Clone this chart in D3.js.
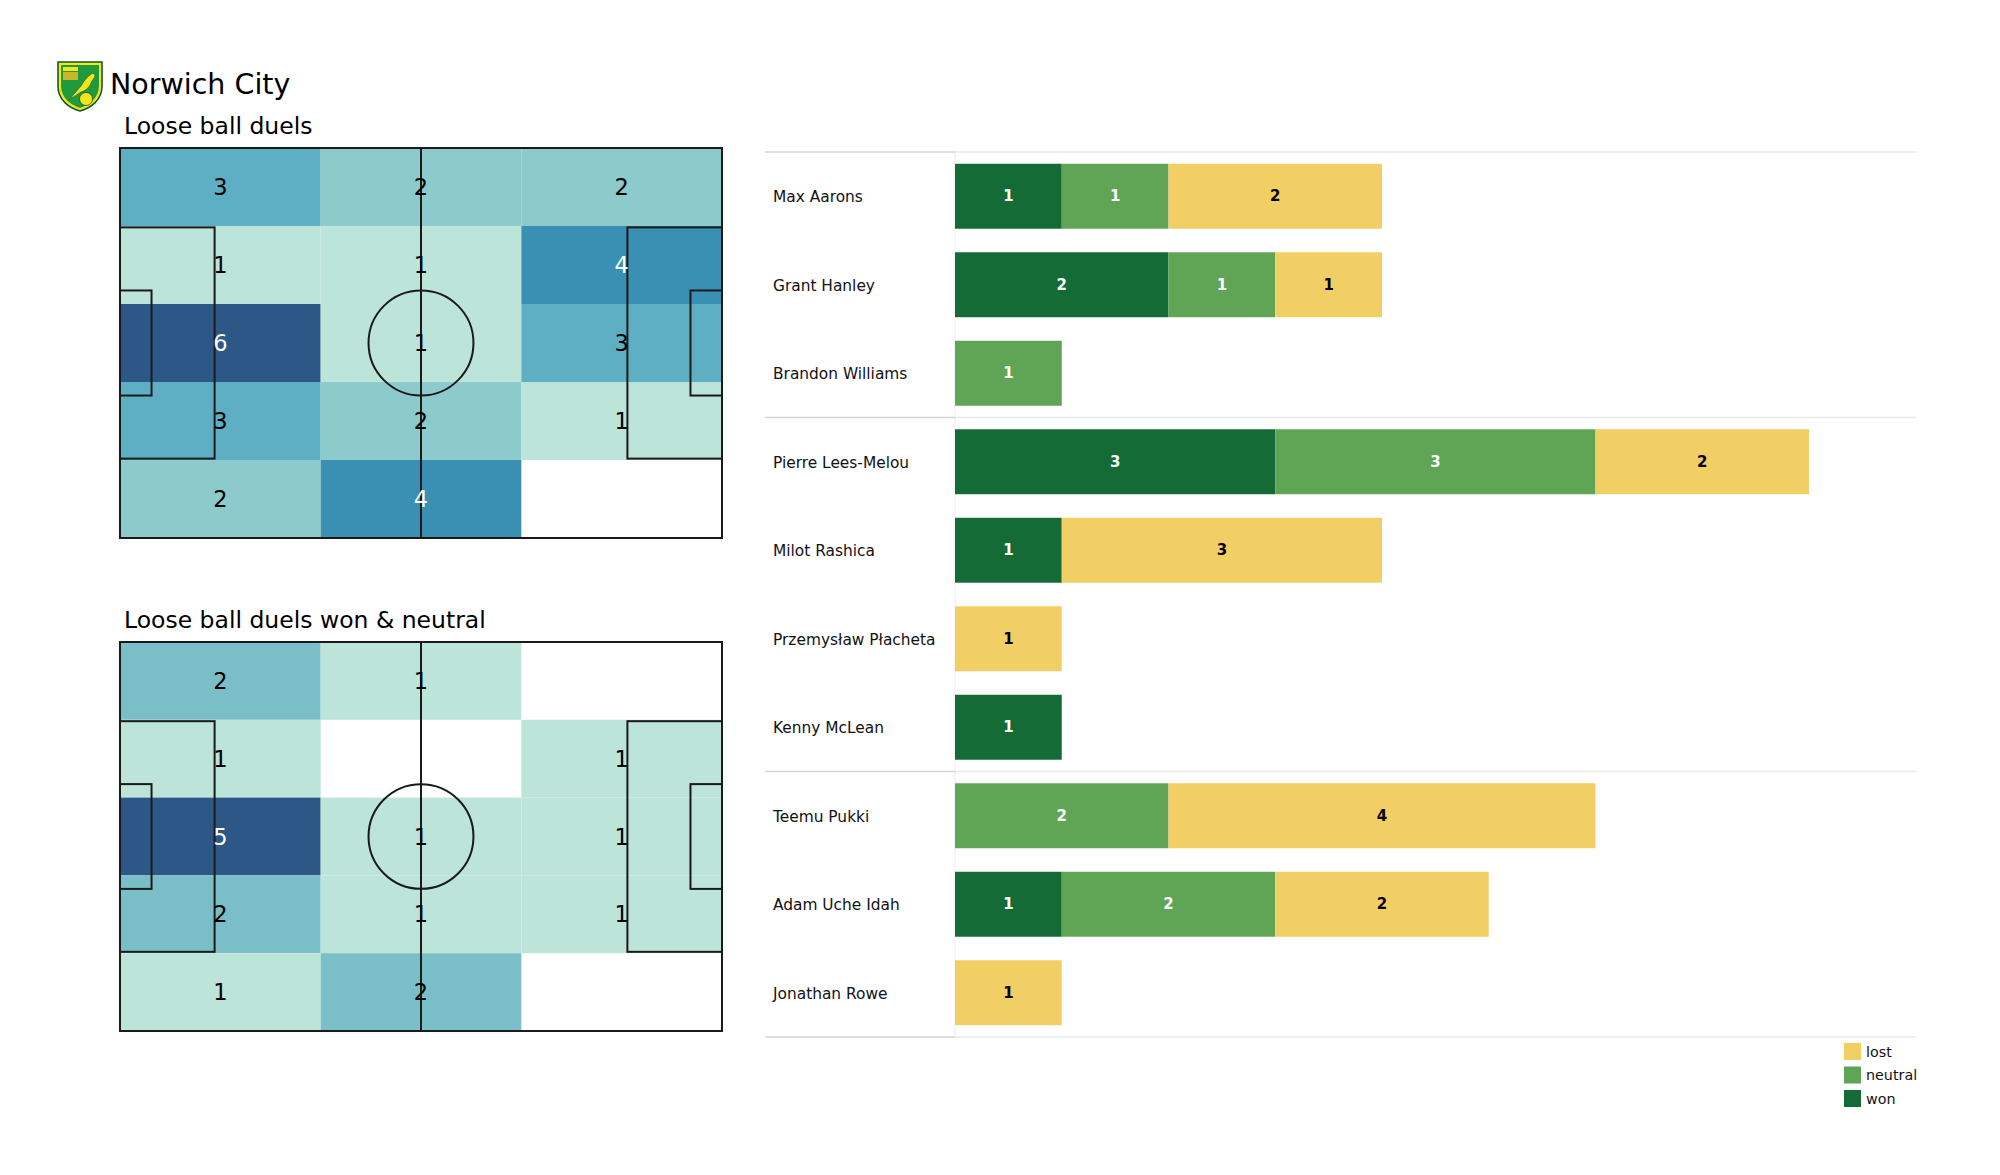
<!DOCTYPE html>
<html>
<head>
<meta charset="utf-8">
<script src="https://cdn.jsdelivr.net/npm/d3@7"></script>
<style>
  html, body { margin: 0; padding: 0; background: #fff; }
  svg { display: block; font-family: "DejaVu Sans", sans-serif; }
</style>
</head>
<body>
<svg id="chart" width="2000" height="1175"></svg>
<script>
// ---------------- DATA ----------------
const teamName = "Norwich City";
const pitchTitles = ["Loose ball duels", "Loose ball duels won & neutral"];
// heatmap grids: rows top -> bottom, cols left -> right
const duelsGrid = [
  [3, 2, 2],
  [1, 1, 4],
  [6, 1, 3],
  [3, 2, 1],
  [2, 4, 0]
];
const wonNeutralGrid = [
  [2, 1, 0],
  [1, 0, 1],
  [5, 1, 1],
  [2, 1, 1],
  [1, 2, 0]
];
const players = ["Max Aarons", "Grant Hanley", "Brandon Williams", "Pierre Lees-Melou",
  "Milot Rashica", "Przemysław Płacheta", "Kenny McLean", "Teemu Pukki",
  "Adam Uche Idah", "Jonathan Rowe"];
const won     = [1, 2, 0, 3, 1, 0, 1, 0, 1, 0];
const neutral = [1, 1, 1, 3, 0, 0, 0, 2, 2, 0];
const lost    = [2, 1, 0, 2, 3, 1, 0, 4, 2, 1];
const groupBreaks = ["Max Aarons", "Pierre Lees-Melou", "Teemu Pukki"]; // first player of each group
const seriesNames = ["won", "neutral", "lost"];
const legendOrder = ["lost", "neutral", "won"];

// ---------------- STYLE ----------------
const seriesColor = { won: "#156b35", neutral: "#5fa555", lost: "#f2cf65" };
const seriesText = { won: "#ffffff", neutral: "#ffffff", lost: "#000000" };
const heatColor = d3.scaleLinear()
  .domain([0.2, 1/3, 0.5, 2/3, 1])
  .range(["#bde4d9", "#8dcacc", "#5eafc3", "#3a90b2", "#2c5786"])
  .clamp(true);

const svg = d3.select("#chart");

// ---------------- HEADER / LOGO ----------------
const logo = svg.append("g").attr("transform", "translate(57,60)");
logo.append("path")
  .attr("d", "M1,2 L45,2 L45,26 C45,40 34,48 23,51 C12,48 1,40 1,26 Z")
  .attr("fill", "#f7e51c").attr("stroke", "#0b5a2a").attr("stroke-width", 1.6);
logo.append("path")
  .attr("d", "M4,5 L42,5 L42,26 C42,38 32,45 23,48 C14,45 4,38 4,26 Z")
  .attr("fill", "#1f9a3c");
logo.append("rect").attr("x", 6).attr("y", 7).attr("width", 15).attr("height", 4).attr("fill", "#f7e51c");
logo.append("rect").attr("x", 6).attr("y", 12).attr("width", 15).attr("height", 8).attr("fill", "#c8b52a");
logo.append("path")
  .attr("d", "M12,40 L24,26 C27,21 30,17 33,15 C35,13 38,13 38,16 C37,19 35,20 34,23 C32,28 28,31 24,32 Z")
  .attr("fill", "#f7e51c").attr("stroke", "#0b5a2a").attr("stroke-width", 0.6);
logo.append("circle").attr("cx", 29).attr("cy", 39).attr("r", 6.5)
  .attr("fill", "#f7e51c").attr("stroke", "#0b5a2a").attr("stroke-width", 0.8);

svg.append("text").attr("x", 110).attr("y", 94)
  .attr("font-size", 28.5).attr("fill", "#000").text(teamName);

// ---------------- PITCHES ----------------
function drawPitch(grid, title, top, bottom, titleY) {
  const x = d3.scaleLinear().domain([0, 105]).range([120, 722]);
  const y = d3.scaleLinear().domain([0, 68]).range([top, bottom]);
  const g = svg.append("g");
  svg.append("text").attr("x", 124).attr("y", titleY)
    .attr("font-size", 23.5).attr("fill", "#000").text(title);

  const nRows = grid.length, nCols = grid[0].length;
  const cw = 105 / nCols, ch = 68 / nRows;
  const maxV = d3.max(grid.flat());
  const cells = [];
  grid.forEach((row, r) => row.forEach((v, c) => cells.push({ r, c, v })));

  g.selectAll("rect.cell").data(cells.filter(d => d.v > 0)).join("rect")
    .attr("class", "cell")
    .attr("x", d => x(d.c * cw)).attr("y", d => y(d.r * ch))
    .attr("width", x(cw) - x(0)).attr("height", y(ch) - y(0))
    .attr("fill", d => heatColor(d.v / maxV));

  const line = { fill: "none", stroke: "#1a1a1a", "stroke-width": 2 };
  function apply(sel) { Object.entries(line).forEach(([k, v]) => sel.attr(k, v)); return sel; }
  apply(g.append("rect").attr("x", x(0)).attr("y", y(0))
    .attr("width", x(105) - x(0)).attr("height", y(68) - y(0)));
  apply(g.append("line").attr("x1", x(52.5)).attr("x2", x(52.5)).attr("y1", y(0)).attr("y2", y(68)));
  apply(g.append("ellipse").attr("cx", x(52.5)).attr("cy", y(34))
    .attr("rx", x(9.15) - x(0)).attr("ry", y(9.15) - y(0)));
  apply(g.append("rect").attr("x", x(0)).attr("y", y(34 - 20.16))
    .attr("width", x(16.5) - x(0)).attr("height", y(40.32) - y(0)));
  apply(g.append("rect").attr("x", x(105 - 16.5)).attr("y", y(34 - 20.16))
    .attr("width", x(16.5) - x(0)).attr("height", y(40.32) - y(0)));
  apply(g.append("rect").attr("x", x(0)).attr("y", y(34 - 9.16))
    .attr("width", x(5.5) - x(0)).attr("height", y(18.32) - y(0)));
  apply(g.append("rect").attr("x", x(105 - 5.5)).attr("y", y(34 - 9.16))
    .attr("width", x(5.5) - x(0)).attr("height", y(18.32) - y(0)));

  g.selectAll("text.val").data(cells.filter(d => d.v > 0)).join("text")
    .attr("class", "val")
    .attr("x", d => x((d.c + 0.5) * cw)).attr("y", d => y((d.r + 0.5) * ch))
    .attr("text-anchor", "middle").attr("dominant-baseline", "central")
    .attr("font-size", 22.5)
    .attr("fill", d => d.v / maxV > 0.6 ? "#ffffff" : "#000000")
    .text(d => d.v);
}
drawPitch(duelsGrid, pitchTitles[0], 148, 538, 134);
drawPitch(wonNeutralGrid, pitchTitles[1], 642, 1031, 628);

// ---------------- BAR CHART ----------------
const yb = d3.scaleBand().domain(players).range([152, 1037])
  .paddingInner(0.266).paddingOuter(0.133);
const xb = d3.scaleLinear().domain([0, 8]).range([955, 1809]);
const labelX = 773, lineX0 = 765, lineX1 = 1916;

const rows = players.map((p, i) => ({ player: p, won: won[i], neutral: neutral[i], lost: lost[i] }));
const stack = d3.stack().keys(seriesNames)(rows);

const bg = svg.append("g");
bg.append("line").attr("x1", xb(0)).attr("x2", xb(0))
  .attr("y1", yb.range()[0]).attr("y2", yb.range()[1])
  .attr("stroke", "#f0f0f0").attr("stroke-width", 1.2);

const step = yb.step();
const sepYs = groupBreaks.map(p => yb(p) - yb.paddingInner() * step / 2)
  .concat([yb.range()[1]]);
sepYs.forEach(sy => {
  bg.append("line").attr("x1", lineX0).attr("x2", xb(0)).attr("y1", sy).attr("y2", sy)
    .attr("stroke", "#d4d4d4").attr("stroke-width", 1.5);
  bg.append("line").attr("x1", xb(0)).attr("x2", lineX1).attr("y1", sy).attr("y2", sy)
    .attr("stroke", "#eaeaea").attr("stroke-width", 1.5);
});

stack.forEach(layer => {
  const key = layer.key;
  const segs = layer.map((d, i) => ({ x0: d[0], x1: d[1], player: players[i], v: d[1] - d[0] }))
    .filter(d => d.v > 0);
  bg.selectAll("rect.s-" + key).data(segs).join("rect")
    .attr("class", "s-" + key)
    .attr("x", d => xb(d.x0)).attr("y", d => yb(d.player))
    .attr("width", d => xb(d.x1) - xb(d.x0)).attr("height", yb.bandwidth())
    .attr("fill", seriesColor[key]);
  bg.selectAll("text.t-" + key).data(segs).join("text")
    .attr("class", "t-" + key)
    .attr("x", d => (xb(d.x0) + xb(d.x1)) / 2).attr("y", d => yb(d.player) + yb.bandwidth() / 2)
    .attr("text-anchor", "middle").attr("dominant-baseline", "central")
    .attr("font-size", 15).attr("font-weight", "bold")
    .attr("fill", seriesText[key]).text(d => d.v);
});

bg.selectAll("text.name").data(players).join("text")
  .attr("class", "name")
  .attr("x", labelX).attr("y", d => yb(d) + yb.bandwidth() / 2 + 1)
  .attr("dominant-baseline", "central")
  .attr("font-size", 15.4).attr("fill", "#111").text(d => d);

const lg = svg.append("g");
legendOrder.forEach((k, i) => {
  const ly = 1043 + i * 23.5;
  lg.append("rect").attr("x", 1844).attr("y", ly).attr("width", 17).attr("height", 17)
    .attr("fill", seriesColor[k]);
  lg.append("text").attr("x", 1866).attr("y", ly + 8.5).attr("dominant-baseline", "central")
    .attr("font-size", 14.3).attr("fill", "#111").text(k);
});
</script>
</body>
</html>
